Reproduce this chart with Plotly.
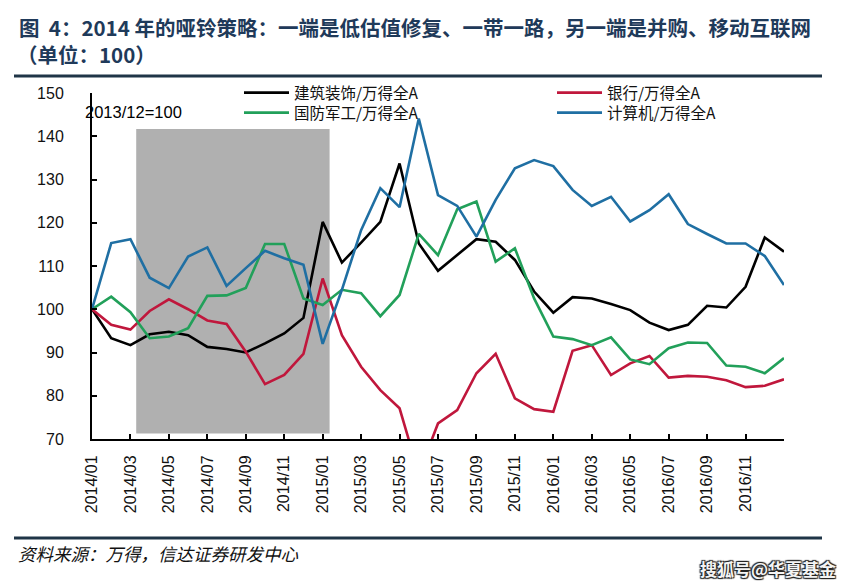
import plotly.graph_objects as go

months = [f"{y}/{m:02d}" for y in (2014, 2015, 2016) for m in range(1, 13)] + ["2017/01"]
tick_months = months[0::2]
tick_text = [m if m != "2017/01" else "" for m in tick_months]

jianzhu = [100, 93.3, 91.7, 94.2, 94.8, 94.0, 91.3, 90.8, 90.0, 92.1, 94.4, 98.0,
           120.2, 110.8, 115.4, 120.2, 133.7, 115.2, 108.9, 112.5, 116.2, 115.6, 111.4, 104.1,
           99.2, 102.8, 102.5, 101.2, 99.8, 96.9, 95.2, 96.4, 100.8, 100.4, 105.2, 116.6, 113.3]
yinhang = [100, 96.4, 95.3, 99.6, 102.3, 100.0, 97.4, 96.6, 90.2, 82.7, 84.8, 89.7,
           107.1, 94.0, 86.7, 81.3, 77.1, 62.0, 73.6, 76.7, 85.2, 89.7, 79.4, 76.9,
           76.3, 90.4, 91.7, 84.8, 87.5, 89.2, 84.2, 84.6, 84.4, 83.6, 82.0, 82.3, 83.8]
guofang = [100, 102.9, 99.3, 93.3, 93.7, 95.6, 103.1, 103.2, 104.9, 115.1, 115.1, 102.5,
           101.0, 104.5, 103.7, 98.4, 103.3, 117.4, 112.5, 123.1, 124.9, 111.0, 114.1, 102.5,
           93.7, 93.1, 91.7, 93.5, 88.4, 87.3, 91.0, 92.3, 92.2, 87.0, 86.7, 85.2, 88.7]
jisuanji = [100, 115.3, 116.2, 107.3, 104.9, 112.2, 114.3, 105.4, 109.5, 113.5, 111.8, 110.3,
            92.0, 104.5, 118.3, 128.0, 123.6, 144.1, 126.4, 123.9, 116.8, 125.3, 132.6, 134.5,
            133.1, 127.6, 123.9, 126.0, 120.3, 122.9, 126.6, 119.7, 117.4, 115.2, 115.2, 112.3, 105.6]

series = [
    ("建筑装饰/万得全A", jianzhu, "#000000", "legend"),
    ("银行/万得全A", yinhang, "#c0173c", "legend2"),
    ("国防军工/万得全A", guofang, "#22a05a", "legend3"),
    ("计算机/万得全A", jisuanji, "#1f6fa3", "legend4"),
]

CJK = "Noto Sans CJK SC"
ARIAL = "Liberation Sans, Arial"

# page has an 8px body margin; plot area on the page spans x 92..784, y 93..439
def px(xp):
    return (xp - 92) / 692.0

def py(yp):
    return (439 - yp) / 346.0

fig = go.Figure()
for name, vals, color, lg in series:
    fig.add_trace(go.Scatter(x=months, y=vals, name=name, mode="lines", legend=lg,
                             line=dict(color=color, width=2.6)))

fig.add_shape(type="rect", xref="x", yref="y", x0=2.3, x1=12.36, y0=71.3, y1=141.7,
              fillcolor="#b0b0b0", line=dict(width=0), layer="below")
fig.add_shape(type="line", xref="paper", yref="paper", x0=px(14), x1=px(822), y0=py(76), y1=py(76),
              line=dict(color="#1f3547", width=3))
fig.add_shape(type="line", xref="paper", yref="paper", x0=px(14), x1=px(822), y0=py(538), y1=py(538),
              line=dict(color="#1f3547", width=3))

annotations = [
    dict(text="<b>图&nbsp;&nbsp;4：2014 年的哑铃策略：一端是低估值修复、一带一路，另一端是并购、移动互联网</b>",
         x=px(17), y=py(27), xanchor="left", yanchor="middle",
         font=dict(family=CJK, size=20.5, color="#1f3a5a")),
    dict(text="<b>（单位：100）</b>", x=px(15), y=py(54), xanchor="left", yanchor="middle",
         font=dict(family=CJK, size=20.5, color="#1f3a5a")),
    dict(text="2013/12=100", x=px(133), y=py(112), xanchor="center", yanchor="middle",
         font=dict(family=ARIAL, size=16.5, color="#000000")),
    dict(text="资料来源：万得，信达证券研发中心", x=px(16), y=py(553), xanchor="left", yanchor="middle",
         font=dict(family=CJK, size=17.5, color="#111111", style="italic")),
    dict(text="<b>搜狐号@华夏基金</b>", x=px(838), y=py(568), xanchor="right", yanchor="middle",
         font=dict(family=CJK, size=17, color="#f4f4f4",
                   shadow="1px 1px 1px #222, -1px -1px 1px #222, 1px -1px 1px #222, -1px 1px 1px #222")),
]
for a in annotations:
    fig.add_annotation(xref="paper", yref="paper", showarrow=False, **a)

def leg(xp, yp):
    return dict(orientation="h", x=px(xp), y=py(yp), xanchor="left", yanchor="middle",
                bgcolor="rgba(0,0,0,0)", itemwidth=45,
                font=dict(family=CJK, size=15.5, color="#111111"))

fig.update_layout(
    width=837, height=579,
    margin=dict(l=84, r=61, t=85, b=148),
    paper_bgcolor="white", plot_bgcolor="white",
    showlegend=True,
    legend=leg(239, 93), legend2=leg(552, 93), legend3=leg(239, 113), legend4=leg(552, 113),
    xaxis=dict(type="category", range=[0, 36], tickmode="array", tickvals=tick_months,
               ticktext=tick_text, tickangle=-90, ticks="inside", ticklen=5, tickwidth=1.5,
               tickcolor="black", showline=True, linecolor="black", linewidth=2,
               showgrid=False, zeroline=False, ticklabelstandoff=8,
               tickfont=dict(family=ARIAL, size=16, color="#111111")),
    yaxis=dict(range=[70, 150], tickmode="array", tickvals=[70, 80, 90, 100, 110, 120, 130, 140, 150],
               ticks="inside", ticklen=5, tickwidth=1.5, tickcolor="black",
               showline=True, linecolor="black", linewidth=2, showgrid=False, zeroline=False,
               ticklabelstandoff=23, tickfont=dict(family=ARIAL, size=16, color="#111111")),
)

fig.write_html("out.html")
